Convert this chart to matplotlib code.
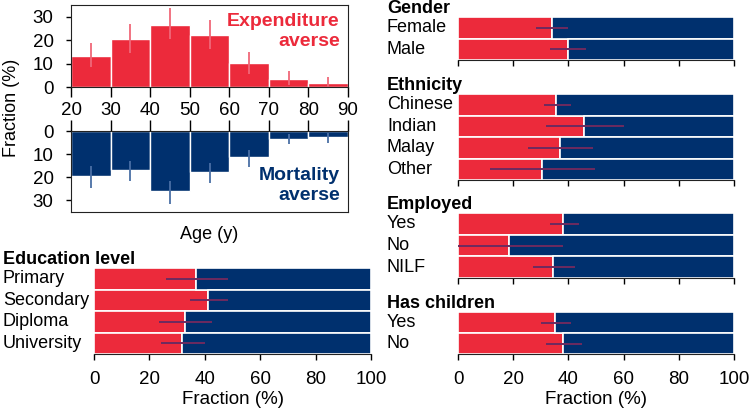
import matplotlib
matplotlib.use("Agg")
import matplotlib.pyplot as plt
import matplotlib.transforms as mtransforms
import numpy as np

plt.rcParams['font.family'] = ['Liberation Sans', 'DejaVu Sans']

RED = '#ec2a3b'
BLUE = '#00306e'
ERR = '#6d2a5f'

# Age histograms
age_edges = [20, 30, 40, 50, 60, 70, 80]
exp_frac = [13.4, 20.6, 26.6, 22.3, 10.2, 3.6, 1.9]
exp_lo = [8.6, 14.7, 20.3, 16.1, 5.7, 1.0, 0.0]
exp_hi = [18.9, 26.9, 33.6, 28.6, 15.0, 6.9, 4.4]
mort_frac = [19.6, 17.0, 26.0, 17.6, 11.3, 3.3, 2.6]
mort_lo = [15.3, 13.1, 21.4, 13.7, 8.0, 1.4, 0.9]
mort_hi = [24.5, 21.8, 31.5, 22.3, 15.6, 5.8, 5.2]

# Group panels: categories, expenditure-averse %, ci low, ci high
edu_cats = ['Primary', 'Secondary', 'Diploma', 'University']
edu_val = [36.9, 41.1, 32.7, 31.7]
edu_lo = [25.9, 34.5, 23.3, 24.1]
edu_hi = [48.2, 48.2, 42.5, 40.1]

gender_cats = ['Female', 'Male']
gender_val = [34.0, 39.9]
gender_lo = [28.3, 33.4]
gender_hi = [39.9, 46.4]

eth_cats = ['Chinese', 'Indian', 'Malay', 'Other']
eth_val = [35.5, 45.8, 37.0, 30.4]
eth_lo = [31.0, 31.8, 25.2, 11.7]
eth_hi = [41.0, 60.2, 48.8, 49.6]

emp_cats = ['Yes', 'No', 'NILF']
emp_val = [38.2, 18.6, 34.6]
emp_lo = [33.4, -0.6, 27.3]
emp_hi = [44.0, 38.0, 42.3]

kid_cats = ['Yes', 'No']
kid_val = [35.3, 38.2]
kid_lo = [30.0, 31.8]
kid_hi = [41.0, 44.9]

W, H = 749, 409
fig = plt.figure(figsize=(W / 100, H / 100), dpi=100)


def px_axes(x0, y0, x1, y1):
    return fig.add_axes([x0 / W, 1 - y1 / H, (x1 - x0) / W, (y1 - y0) / H])


SPINE = '#222222'

# top histogram
ax1 = px_axes(71, 5, 348, 87)
ax1.bar(age_edges, exp_frac, width=10, align='edge', color=RED, edgecolor='white', linewidth=1)
mids = np.array(age_edges) + 5
ax1.vlines(mids, exp_lo, exp_hi, color='#f06878', linewidth=1.3)
ax1.set_xlim(20, 90)
ax1.set_ylim(0, 35)
ax1.set_yticks([0, 10, 20, 30])
ax1.set_xticks(range(20, 91, 10))
ax1.tick_params(axis='x', length=7, width=1, pad=4, labelsize=13.5)
ax1.tick_params(axis='y', length=3.5, width=1, pad=9, labelsize=13.5)
for s in ax1.spines.values():
    s.set_color(SPINE)
ax1.text(0.97, 0.9, 'Expenditure\naverse', transform=ax1.transAxes, ha='right', va='top',
         color=RED, fontsize=14, fontweight='bold', linespacing=1.25)

# bottom histogram
ax2 = px_axes(71, 131, 348, 212)
ax2.bar(age_edges, mort_frac, width=10, align='edge', color=BLUE, edgecolor='white', linewidth=1)
ax2.vlines(mids, mort_lo, mort_hi, color='#4a6fa5', linewidth=1.3)
ax2.set_xlim(20, 90)
ax2.set_ylim(35, 0)
ax2.set_yticks([0, 10, 20, 30])
ax2.set_xticks(range(20, 91, 10))
ax2.xaxis.tick_top()
ax2.tick_params(axis='x', length=8, width=1, labeltop=False)
ax2.tick_params(axis='y', length=3.5, width=1, pad=9, labelsize=13.5)
for s in ax2.spines.values():
    s.set_color(SPINE)
ax2.set_xlabel('Age (y)', fontsize=13, labelpad=10)
ax2.text(0.97, 0.56, 'Mortality\naverse', transform=ax2.transAxes, ha='right', va='top',
         color=BLUE, fontsize=14, fontweight='bold', linespacing=1.25)

fig.text(12 / W, 1 - 108 / H, 'Fraction (%)', rotation=90, ha='center', va='center', fontsize=13)


def group_panel(box, header, cats, vals, lo, hi, label_x, show_labels):
    ax = px_axes(*box)
    n = len(cats)
    y = np.arange(n)
    vals = np.array(vals)
    ax.barh(y, vals, height=1, color=RED, edgecolor='white', linewidth=1.2)
    ax.barh(y, 100 - vals, left=vals, height=1, color=BLUE, edgecolor='white', linewidth=1.2)
    ax.hlines(y, lo, hi, color=ERR, linewidth=1.4)
    ax.set_xlim(0, 100)
    ax.set_ylim(n - 0.5, -0.5)
    ax.set_yticks([])
    for k in ['top', 'right', 'left']:
        ax.spines[k].set_visible(False)
    ax.spines['bottom'].set_color(SPINE)
    ax.spines['bottom'].set_bounds(0, 100)
    ax.set_xticks(range(0, 101, 20))
    ax.tick_params(axis='x', length=4.5, width=1, pad=8, labelsize=13.5, labelbottom=show_labels)
    if show_labels:
        ax.set_xlabel('Fraction (%)', fontsize=13.5, labelpad=2)
    tr = mtransforms.blended_transform_factory(fig.transFigure, ax.transData)
    for yi, c in zip(y, cats):
        ax.text(label_x / W, yi, c, transform=tr, ha='left', va='center', fontsize=13)
    ax.text(label_x / W, -0.5, header, transform=tr, ha='left', va='bottom',
            fontsize=13, fontweight='bold')
    return ax


group_panel((94, 268, 371, 354), 'Education level', edu_cats, edu_val, edu_lo, edu_hi, 3, True)
group_panel((458, 17, 734, 60), 'Gender', gender_cats, gender_val, gender_lo, gender_hi, 387, False)
group_panel((458, 94, 734, 180), 'Ethnicity', eth_cats, eth_val, eth_lo, eth_hi, 387, False)
group_panel((458, 213, 734, 278), 'Employed', emp_cats, emp_val, emp_lo, emp_hi, 387, False)
group_panel((458, 312, 734, 354), 'Has children', kid_cats, kid_val, kid_lo, kid_hi, 387, True)

fig.savefig('out.png', dpi=100)
